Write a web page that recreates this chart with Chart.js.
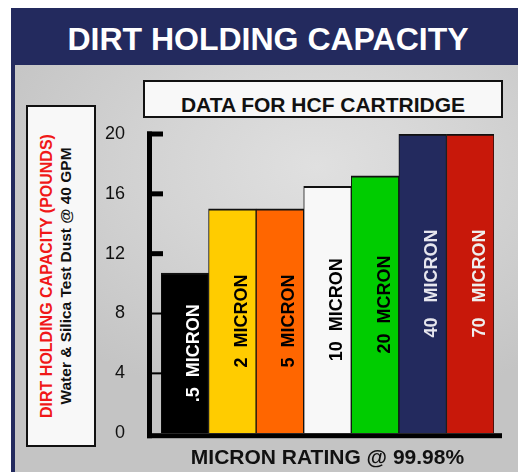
<!DOCTYPE html>
<html>
<head>
<meta charset="utf-8">
<title>Dirt Holding Capacity</title>
<script src="https://cdn.jsdelivr.net/npm/chart.js@4/dist/chart.umd.min.js"></script>
<style>
  html, body { margin: 0; padding: 0; background: #fff; }
  #wrap { position: relative; width: 518px; height: 472px; overflow: hidden;
    font-family: "Liberation Sans", Arial, sans-serif; }
  #frame { position: absolute; left: 11px; top: 8px; width: 507px; height: 464px; background: #232a5e; }
  #panel { position: absolute; left: 15px; top: 65px; width: 503px; height: 407px;
    background: radial-gradient(ellipse 70% 60% at 60% 25%, #e0e0e0 0%, #d4d4d4 45%, #c4c4c4 100%); }
  #title { position: absolute; left: 18px; top: 23px; width: 500px; text-align: center;
    color: #fff; font-weight: bold; font-size: 32px; line-height: 32px; white-space: nowrap; }
  #subtitle { position: absolute; left: 143px; top: 80px; width: 360px; height: 38px; box-sizing: border-box;
    border: 2px solid #111; background: #f8f8f8; text-align: center; font-weight: bold;
    font-size: 21px; line-height: 21px; padding-top: 12px; color: #111; white-space: nowrap; }
  #ybox { position: absolute; left: 26px; top: 105px; width: 70px; height: 342px; box-sizing: border-box;
    border: 2px solid #111; background: #f8f8f8; }
  .rot { position: absolute; transform: translate(-50%, -50%) rotate(-90deg); white-space: nowrap;
    font-weight: bold; line-height: 1; }
  #ylab1 { left: 46.5px; top: 276px; color: #f01818; font-size: 16px; }
  #ylab2 { left: 65.5px; top: 276px; color: #111; font-size: 15.5px; }
  #chart { position: absolute; left: 0; top: 0; }
</style>
</head>
<body>
<div id="wrap">
  <div id="frame"></div>
  <div id="panel"></div>
  <div id="title">DIRT HOLDING CAPACITY</div>
  <div id="subtitle">DATA FOR HCF CARTRIDGE</div>
  <div id="ybox"></div>
  <div class="rot" id="ylab1">DIRT HOLDING CAPACITY (POUNDS)</div>
  <div class="rot" id="ylab2">Water &amp; Silica Test Dust @ 40 GPM</div>
  <canvas id="chart" width="518" height="472"></canvas>
</div>
<script>
const categories = [".5  MICRON", "2  MICRON", "5  MICRON", "10  MICRON", "20  MCRON", "40   MICRON", "70   MICRON"];
const capacity = [10.7, 15, 15, 16.5, 17.2, 20, 20];
const yTicks = [0, 4, 8, 12, 16, 20];

const barColors = ["#000000", "#ffcc00", "#ff6600", "#f8f8f8", "#00cc00", "#232a5e", "#c8180a"];
const labelColors = ["#ffffff", "#000000", "#000000", "#000000", "#000000", "#e6e6ee", "#eeeeee"];
const FONT = "'Liberation Sans', Arial, sans-serif";

// axis frame: thick left rail with inward ticks, and thick base line
const axisFrame = {
  id: "axisFrame",
  afterDatasetsDraw(chart) {
    const { ctx, chartArea, scales } = chart;
    const y = scales.y;
    const axisX = chartArea.left - 11.5;
    const base = y.getPixelForValue(0) + 2.5;
    ctx.save();
    ctx.fillStyle = "#000";
    const top = y.getPixelForValue(20) - 2.5;
    ctx.fillRect(axisX - 2.5, top, 5, base + 2.5 - top);
    yTicks.forEach(v => {
      if (v === 0) return;
      const py = y.getPixelForValue(v);
      const w = v >= 12 ? 5 : 2;
      ctx.fillRect(axisX - 2.5, py - w / 2, 16, w);
    });
    ctx.fillRect(axisX - 2.5, base - 2.5, chartArea.right + 8 - (axisX - 2.5), 5);
    ctx.restore();
  }
};

// rotated text inside each bar
const barLabels = {
  id: "barLabels",
  afterDatasetsDraw(chart) {
    const { ctx } = chart;
    const meta = chart.getDatasetMeta(0);
    ctx.save();
    ctx.font = "bold 18px " + FONT;
    ctx.textAlign = "center";
    ctx.textBaseline = "middle";
    meta.data.forEach((bar, i) => {
      ctx.save();
      ctx.translate(bar.x + 9.5, (bar.y + bar.base) / 2);
      ctx.rotate(-Math.PI / 2);
      ctx.fillStyle = labelColors[i];
      ctx.fillText(categories[i], 0, 0);
      ctx.restore();
    });
    ctx.restore();
  }
};

new Chart(document.getElementById("chart"), {
  type: "bar",
  data: {
    labels: categories,
    datasets: [{
      data: capacity,
      backgroundColor: barColors,
      borderColor: "#111",
      borderWidth: { top: 2, left: 1, right: 1, bottom: 0 },
      borderSkipped: false,
      barPercentage: 1,
      categoryPercentage: 1,
    }],
  },
  options: {
    responsive: false,
    animation: false,
    layout: { padding: { left: 101, right: 24, top: 134, bottom: 0 } },
    plugins: {
      legend: { display: false },
      tooltip: { enabled: false },
    },
    scales: {
      x: {
        grid: { display: false },
        border: { display: false },
        ticks: { display: false },
        title: {
          display: true,
          text: "MICRON RATING @ 99.98%",
          color: "#111",
          font: { family: FONT, size: 21, weight: "bold", lineHeight: 1 },
          padding: { top: 0, bottom: 0 },
        },
        afterFit: s => { s.height = 36; },
      },
      y: {
        min: 0,
        max: 20,
        grid: { display: false },
        border: { display: false },
        afterBuildTicks: s => { s.ticks = yTicks.map(v => ({ value: v })); },
        ticks: {
          padding: 28,
          color: "#111",
          font: { family: FONT, size: 18 },
        },
        afterFit: s => { s.width = 60; },
      },
    },
  },
  plugins: [axisFrame, barLabels],
});
</script>
</body>
</html>
